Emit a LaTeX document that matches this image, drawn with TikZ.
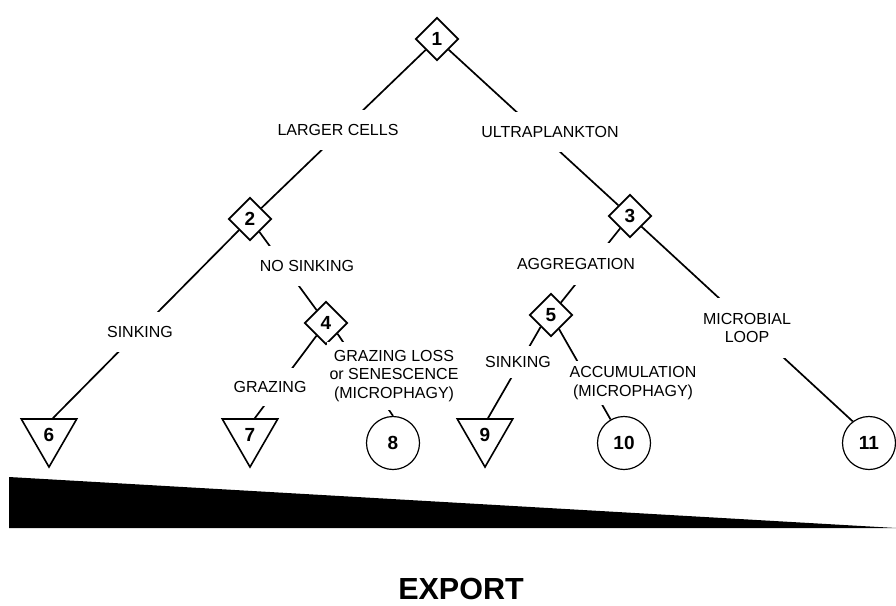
\documentclass[tikz,border=0pt]{standalone}
\usepackage{fontspec}
\setmainfont{Liberation Sans}
\usetikzlibrary{shapes.geometric}
\begin{document}
\begin{tikzpicture}[x=1pt,y=-1pt,
  split/.style={draw, diamond, minimum width=43pt, minimum height=43pt,
    inner sep=0pt, line width=1.7pt, font=\fontsize{19}{19}\selectfont\bfseries},
  sinkbox/.style={draw, regular polygon, regular polygon sides=3,
    shape border rotate=180, minimum size=64pt, inner sep=0pt,
    line width=1.6pt, font=\fontsize{19}{19}\selectfont\bfseries},
  pool/.style={draw, circle, minimum size=53pt, inner sep=0pt,
    line width=1.2pt, font=\fontsize{19}{19}\selectfont\bfseries},
  conn/.style={line width=1.7pt},
  lbl/.style={fill=white, font=\fontsize{16}{18.5}\selectfont,
    inner xsep=3pt, inner ysep=14pt, text height=11.5pt, text depth=0pt},
  lblmulti/.style={fill=white, font=\fontsize{16}{18.5}\selectfont,
    align=center, inner xsep=3pt}
]
\useasboundingbox (0,0) rectangle (896,605);

% decision points
\node[split] (d1) at (437,39) {1};
\node[split] (d2) at (250,219) {2};
\node[split] (d3) at (630,216) {3};
\node[split] (d4) at (326,323) {4};
\node[split] (d5) at (551,315) {5};

% fates: sinking export (triangles) and recycling (circles)
\node[sinkbox] (t6) at (49,435) {6};
\node[sinkbox] (t7) at (250,435) {7};
\node[pool] (c8) at (393,443) {8};
\node[sinkbox] (t9) at (485,435) {9};
\node[pool] (c10) at (624,443) {10};
\node[pool] (c11) at (869,443) {11};

% branches
\draw[conn] (d1) -- (d2);
\draw[conn] (d1) -- (d3);
\draw[conn] (d2) -- (t6.77);
\draw[conn] (d2) -- (d4);
\draw[conn] (d4) -- (t7.74);
\draw[conn] (d4.-43) -- (c8.north);
\draw[conn] (d3) -- (d5);
\draw[conn] (d3) -- (c11.127);
\draw[conn] (d5.229) -- (t9.80);
\draw[conn] (d5) -- (c10);

% branch labels (white boxes break the lines around the text)
\node[lbl] (lc) at (338,130) {LARGER CELLS};
\node[lbl] (up) at (550,132) {ULTRAPLANKTON};
\node[lbl] (ns) at (307,266) {NO SINKING};
\node[lbl] (sk1) at (140,332) {SINKING};
\node[lbl, inner ysep=13pt] (gz) at (270,387) {GRAZING};
\node[lblmulti, inner ysep=8pt] (gl) at (394,376) {GRAZING LOSS\\or SENESCENCE\\(MICROPHAGY)};
\node[lbl, inner ysep=15pt] (ag) at (576,264) {AGGREGATION};
\node[lbl, inner ysep=10pt] (sk2) at (518,362) {SINKING};
\node[lblmulti, inner ysep=6pt] (ac) at (633,383) {ACCUMULATION\\(MICROPHAGY)};
\node[lblmulti, inner ysep=15pt] (ml) at (747,328) {MICROBIAL\\LOOP};

% export gradient
\fill (9,477) -- (896,528) -- (9,528) -- cycle;
\node[font=\fontsize{30.5}{31}\selectfont\bfseries, text height=21.8pt,
  text depth=0pt, inner sep=0pt] (ex) at (461,589) {EXPORT};
\end{tikzpicture}
\end{document}
